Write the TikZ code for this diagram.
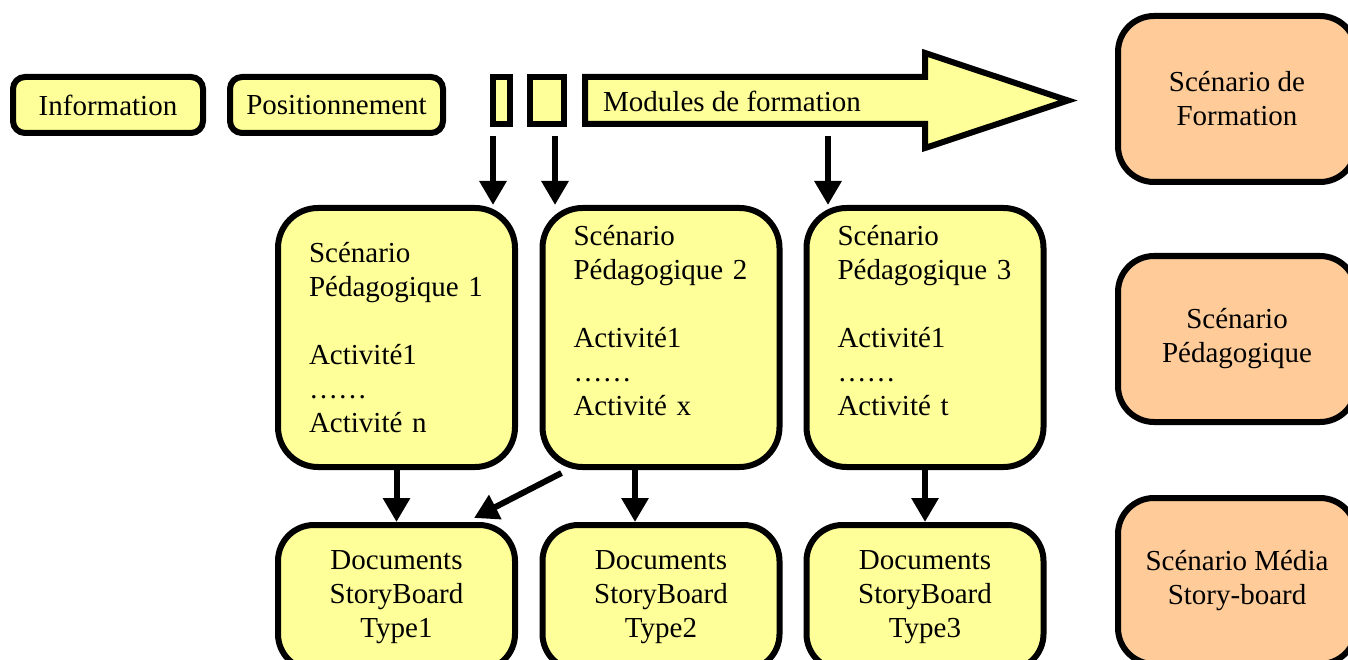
\documentclass[tikz,border=0pt]{standalone}
\usepackage{fontspec}
\setmainfont{Liberation Serif}
\usetikzlibrary{arrows.meta,calc}
\definecolor{boxyellow}{HTML}{FFFF99}
\definecolor{boxorange}{HTML}{FFCC99}
\tikzset{
  base/.style={draw=black, line width=6pt, inner sep=0pt, font=\fontsize{29}{34}\selectfont},
  topbox/.style={base, fill=boxyellow, rounded corners=12pt, minimum height=56pt},
  tickbox/.style={base, fill=boxyellow, minimum height=47pt},
  scbox/.style={base, fill=boxyellow, rounded corners=40pt, minimum width=237pt, minimum height=259pt, text width=175pt, align=left},
  docbox/.style={base, fill=boxyellow, rounded corners=36pt, minimum width=237pt, minimum height=145pt, align=center},
  levelbox/.style={base, fill=boxorange, rounded corners=36pt, minimum width=238pt, minimum height=166pt, align=center},
  bigarrow/.style={draw=black, line width=6pt, fill=boxyellow, line join=miter},
  link/.style={line width=6pt, -{Triangle[width=26pt,length=24pt]}},
}
\begin{document}
\begin{tikzpicture}[x=1pt,y=-1pt]
\useasboundingbox (0,0) rectangle (1348,660);
\clip (0,0) rectangle (1348,660);

% top row
\node[topbox, minimum width=190pt] (info) at (108,105) {Information};
\node[topbox, minimum width=213pt] (pos) at (336.5,105) {Positionnement};
\node[tickbox, minimum width=17pt] (ticka) at (501.5,100.5) {};
\node[tickbox, minimum width=34pt] (tickb) at (547,100.5) {};
\draw[bigarrow] (585,77) -- (925,77) -- (925,53) -- (1068,100.5) -- (925,148) -- (925,124) -- (585,124) -- cycle;
\node[anchor=west, inner sep=0pt, font=\fontsize{29}{34}\selectfont] (modules) at (603,101) {Modules de formation};

% scenario pedagogique boxes
\node[scbox] (sp1) at (396.5,337.5) {Scénario\\Pédagogique 1\\[34pt]Activité1\\……\\Activité n};
\node[scbox] (sp2) at (661,337.5) {Scénario\\Pédagogique 2\\[34pt]Activité1\\……\\Activité x\\~};
\node[scbox] (sp3) at (925,337.5) {Scénario\\Pédagogique 3\\[34pt]Activité1\\……\\Activité t\\~};

% documents
\node[docbox] (d1) at (396.5,597.5) {Documents\\StoryBoard\\Type1};
\node[docbox] (d2) at (661,597.5) {Documents\\StoryBoard\\Type2};
\node[docbox] (d3) at (925,597.5) {Documents\\StoryBoard\\Type3};

% level boxes
\node[levelbox] (lf) at (1237,99) {Scénario de\\Formation};
\node[levelbox] (lp) at (1237,339) {Scénario\\Pédagogique};
\node[levelbox] (lm) at (1237,581) {Scénario Média\\Story-board};

% connectors
\coordinate (sa) at (493,136);
\coordinate (sb) at (555,136);
\coordinate (sc) at (828,136);
\draw[link] (sa) -- (sa |- sp1.north);
\draw[link] (sb) -- (sb |- sp2.north);
\draw[link] (sc) -- (sc |- sp3.north);
\draw[link] (sp1) -- (d1);
\draw[link] ($(sp2.south)+(-26,0)$) -- ($(d2.north)+(-26,0)$);
\draw[link] (sp3) -- (d3);
\draw[link] ($(sp2.south west)+(22,3)$) -- ($(d1.north east)+(-44,-4)$);
\end{tikzpicture}
\end{document}
